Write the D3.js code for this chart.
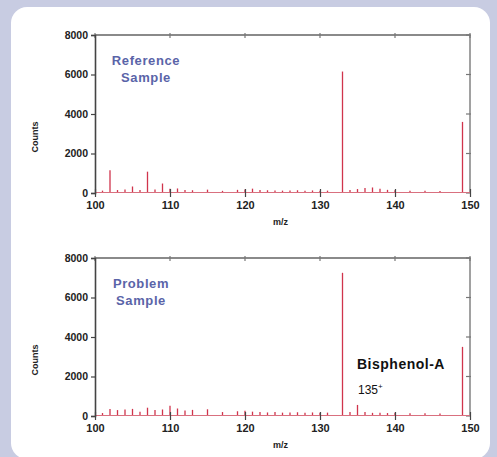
<!DOCTYPE html>
<html><head><meta charset="utf-8">
<script src="https://cdn.jsdelivr.net/npm/d3@7"></script>
<style>html,body{margin:0;padding:0;background:#c8cce2;}svg{display:block;}</style>
</head><body>
<svg id="c" width="497" height="457"></svg>
<script>
// Data
const xTicks = [100, 110, 120, 130, 140, 150];
const yTicks = [0, 2000, 4000, 6000, 8000];
const refMz =     [101,102,103,104,105,106,107,108,109,110,111,112,113,115,117,119,120,121,122,123,124,125,126,127,128,129,130,131,133,134,135,136,137,138,139,140,142,144,146,149];
const refCounts = [120,1150,150,180,330,150,1080,180,480,220,230,150,140,170,110,160,180,220,150,140,130,120,130,140,120,130,110,120,6150,150,200,250,280,220,160,140,120,110,100,3600];
const probMz =     [101,102,103,104,105,106,107,108,109,110,111,112,113,115,117,119,120,121,122,123,124,125,126,127,128,129,130,131,133,134,135,136,137,138,139,140,142,144,146,149];
const probCounts = [150,350,300,330,360,220,420,300,330,520,380,280,310,340,200,240,260,220,200,180,200,170,180,190,170,180,160,170,7250,200,560,200,160,170,150,160,140,140,130,3500];
const panels = [
  {title: ["Reference", "Sample"], mz: refMz, counts: refCounts, top: 35, bottom: 193},
  {title: ["Problem", "Sample"], mz: probMz, counts: probCounts, top: 258, bottom: 416}
];

const svg = d3.select("#c");
svg.append("rect").attr("x", 0).attr("y", 0).attr("width", 497).attr("height", 457).attr("fill", "#c8cce2");
svg.append("rect").attr("x", 11).attr("y", 7).attr("width", 479).attr("height", 452).attr("rx", 16).attr("fill", "#ffffff");

const left = 95, right = 470;
const x = d3.scaleLinear().domain([100, 150]).range([left, right]);
const font = "Liberation Sans, Arial, sans-serif";

panels.forEach((p, i) => {
  const y = d3.scaleLinear().domain([0, 8000]).range([p.bottom, p.top]);
  const g = svg.append("g");

  // frame top & right (gray)
  g.append("line").attr("x1", left).attr("x2", right).attr("y1", p.top).attr("y2", p.top)
    .attr("stroke", "#8a8a8a").attr("stroke-width", 2.2);
  g.append("line").attr("x1", right).attr("x2", right).attr("y1", p.top).attr("y2", p.bottom)
    .attr("stroke", "#8a8a8a").attr("stroke-width", 1.6);
  // top ticks
  g.selectAll(".tt").data(xTicks).join("line")
    .attr("x1", d => x(d)).attr("x2", d => x(d)).attr("y1", p.top - 2).attr("y2", p.top + 3)
    .attr("stroke", "#777").attr("stroke-width", 1.2);
  // right ticks
  g.selectAll(".rt").data(yTicks).join("line")
    .attr("x1", right - 4).attr("x2", right + 1).attr("y1", d => y(d)).attr("y2", d => y(d))
    .attr("stroke", "#777").attr("stroke-width", 1.2);

  // peaks
  g.selectAll(".pk").data(p.mz.map((m, k) => [m, p.counts[k]])).join("line")
    .attr("x1", d => x(d[0])).attr("x2", d => x(d[0]))
    .attr("y1", y(0)).attr("y2", d => y(d[1]))
    .attr("stroke", "#d0344c").attr("stroke-width", 1.3);
  // baseline red
  g.append("line").attr("x1", left).attr("x2", right).attr("y1", y(0) - 0.5).attr("y2", y(0) - 0.5)
    .attr("stroke", "#d9707f").attr("stroke-width", 1);

  // left axis
  const ya = d3.axisLeft(y).tickValues(yTicks).tickSize(4).tickPadding(3).tickFormat(d3.format("d"));
  const yg = g.append("g").attr("transform", `translate(${left},0)`).call(ya);
  yg.select(".domain").attr("stroke", "#444").attr("stroke-width", 1.6);
  yg.selectAll(".tick line").attr("stroke", "#444").attr("stroke-width", 1.2);
  yg.selectAll("text").attr("font-family", font).attr("font-size", 10.5).attr("font-weight", "bold").attr("fill", "#222");

  // bottom axis
  const xa = d3.axisBottom(x).tickValues(xTicks).tickSize(4).tickPadding(4).tickFormat(d3.format("d"));
  const xg = g.append("g").attr("transform", `translate(0,${p.bottom})`).call(xa);
  xg.select(".domain").remove();
  xg.selectAll(".tick line").attr("y1", -4).attr("stroke", "#444").attr("stroke-width", 1.2);
  xg.selectAll("text").attr("font-family", font).attr("font-size", 11).attr("font-weight", "bold").attr("fill", "#222");

  // axis titles
  g.append("text").attr("x", (left + right) / 2 - 2).attr("y", p.bottom + 32)
    .attr("text-anchor", "middle").attr("font-family", font).attr("font-size", 9).attr("font-weight", "bold")
    .attr("fill", "#222").text("m/z");
  g.append("text").attr("transform", `translate(38,${(p.top + p.bottom) / 2 + 23}) rotate(-90)`)
    .attr("text-anchor", "middle").attr("font-family", font).attr("font-size", 9).attr("font-weight", "bold")
    .attr("fill", "#222").text("Counts");

  // sample title
  const tx = i === 0 ? 146 : 141;
  p.title.forEach((t, k) => {
    g.append("text").attr("x", tx).attr("y", p.top + 30 + k * 17)
      .attr("text-anchor", "middle").attr("font-family", font).attr("font-size", 13).attr("font-weight", "bold")
      .attr("letter-spacing", 0.6).attr("fill", "#5a64a8").text(t);
  });
});

// annotation
svg.append("text").attr("x", 357).attr("y", 369).attr("font-family", font).attr("font-size", 14)
  .attr("font-weight", "bold").attr("letter-spacing", 0.5).attr("fill", "#111").text("Bisphenol-A");
const t2 = svg.append("text").attr("x", 358).attr("y", 394).attr("font-family", font).attr("font-size", 12)
  .attr("fill", "#111");
t2.append("tspan").text("135");
t2.append("tspan").attr("dy", -5).attr("font-size", 8).text("+");
</script>
</body></html>
